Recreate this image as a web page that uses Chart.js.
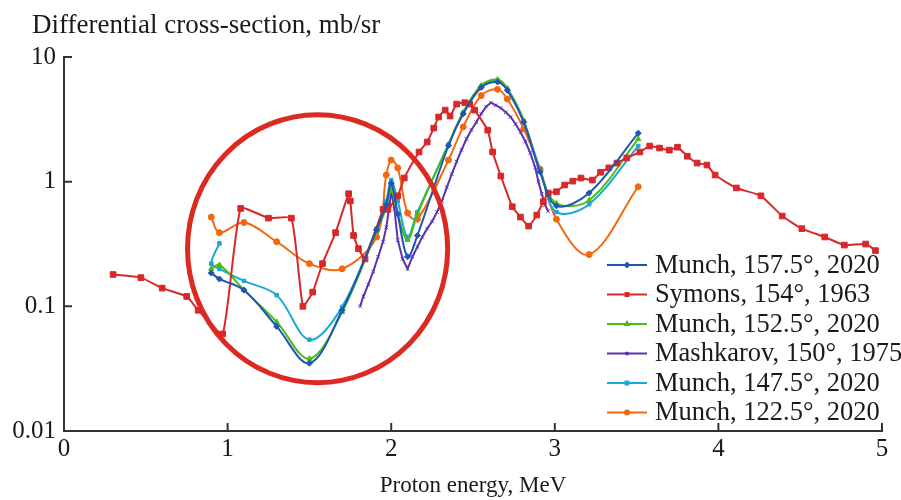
<!DOCTYPE html>
<html>
<head>
<meta charset="utf-8">
<script src="https://cdn.jsdelivr.net/npm/chart.js@4/dist/chart.umd.min.js"></script>
<style>
  html, body { margin: 0; padding: 0; background: #fff; }
  canvas { display: block; }
</style>
</head>
<body>
<canvas id="chart" width="901" height="500"></canvas>
<script>
/* Data */
const energyMunch = [0.90, 0.95, 1.10, 1.30, 1.50, 1.70, 1.91, 1.97, 2.00, 2.04, 2.10, 2.16, 2.35, 2.44, 2.55, 2.65, 2.71, 2.81, 2.91, 3.01, 3.21, 3.51];
const munch1575 = [0.185, 0.166, 0.135, 0.069, 0.035, 0.093, 0.41, 0.66, 0.97, 0.55, 0.25, 0.37, 1.95, 3.5, 5.7, 6.3, 5.4, 3.0, 1.2, 0.64, 0.81, 2.45];
const munch1525 = [0.20, 0.215, 0.135, 0.075, 0.038, 0.09, 0.40, 0.62, 0.85, 0.55, 0.34, 0.55, 2.0, 3.6, 5.9, 6.6, 5.6, 3.1, 1.2, 0.67, 0.71, 2.2];
const munch1225 = [0.52, 0.39, 0.47, 0.33, 0.22, 0.20, 0.36, 1.13, 1.49, 1.29, 0.56, 0.50, 1.49, 2.75, 4.9, 5.5, 4.6, 2.65, 1.26, 0.50, 0.26, 0.91];

const energyMunch1475 = [0.95, 0.90, 0.95, 1.10, 1.30, 1.50, 1.70, 1.91, 1.97, 2.00, 2.04, 2.10, 2.16, 2.35, 2.44, 2.55, 2.65, 2.71, 2.81, 2.91, 3.01, 3.21, 3.51];
const munch1475 = [0.32, 0.22, 0.20, 0.16, 0.123, 0.054, 0.099, 0.42, 0.70, 1.03, 0.70, 0.36, 0.57, 1.97, 3.55, 5.8, 6.5, 5.5, 3.05, 1.25, 0.57, 0.66, 1.93];

const energySymons = [0.30, 0.47, 0.60, 0.75, 0.82, 0.97, 1.08, 1.25, 1.39, 1.46, 1.52, 1.58, 1.66, 1.74, 1.75, 1.77, 1.80, 1.84, 1.95, 1.98, 2.04, 2.08, 2.17, 2.22, 2.26, 2.29, 2.33, 2.36, 2.40, 2.45, 2.48, 2.51, 2.59, 2.62, 2.67, 2.74, 2.79, 2.84, 2.89, 2.93, 2.96, 3.01, 3.06, 3.11, 3.16, 3.23, 3.28, 3.33, 3.38, 3.44, 3.52, 3.58, 3.64, 3.70, 3.75, 3.81, 3.87, 3.93, 3.98, 4.11, 4.26, 4.39, 4.51, 4.65, 4.77, 4.90, 4.96];
const symons = [0.18, 0.17, 0.14, 0.12, 0.093, 0.06, 0.61, 0.51, 0.51, 0.10, 0.13, 0.22, 0.39, 0.80, 0.70, 0.37, 0.29, 0.24, 0.60, 0.60, 0.77, 1.07, 1.73, 2.08, 2.69, 3.30, 3.75, 3.36, 4.19, 4.3, 4.19, 3.75, 2.59, 1.73, 1.11, 0.63, 0.52, 0.44, 0.54, 0.69, 0.81, 0.83, 0.94, 1.01, 1.07, 1.03, 1.19, 1.29, 1.41, 1.55, 1.73, 1.93, 1.86, 1.79, 1.89, 1.60, 1.41, 1.36, 1.13, 0.89, 0.77, 0.53, 0.42, 0.36, 0.31, 0.316, 0.28];

const energyMashkarov = [1.81, 1.83, 1.86, 1.89, 1.92, 1.95, 1.97, 1.99, 2.00, 2.02, 2.04, 2.07, 2.10, 2.13, 2.16, 2.19, 2.22, 2.25, 2.28, 2.31, 2.34, 2.37, 2.40, 2.43, 2.46, 2.49, 2.52, 2.55, 2.58, 2.61, 2.64, 2.67, 2.70, 2.73, 2.76, 2.79, 2.82, 2.85, 2.88, 2.90, 2.92, 2.94, 2.96];
const mashkarov = [0.10, 0.12, 0.15, 0.19, 0.25, 0.33, 0.43, 0.65, 0.85, 0.60, 0.34, 0.24, 0.20, 0.25, 0.30, 0.36, 0.42, 0.48, 0.57, 0.70, 0.90, 1.15, 1.45, 1.80, 2.2, 2.6, 3.0, 3.5, 4.0, 4.3, 4.1, 3.9, 3.6, 3.3, 2.9, 2.5, 2.1, 1.7, 1.3, 1.0, 0.8, 0.65, 0.58];

const xTicks = [0, 1, 2, 3, 4, 5];
const yTicks = [0.01, 0.1, 1, 10];
const yTickLabels = ["0.01", "0.1", "1", "10"];

// red circle drawn over the low-energy region (centre in data units, radii in MeV / decades)
const circleCenter = [1.55, 0.29];
const circleRadiusE = 0.795;
const circleRadiusDecades = 1.075;

const serif = "'Liberation Serif', 'Times New Roman', serif";
const ink = "#1a1a1a";

function pts(xs, ys) {
  return xs.map(function (x, i) { return { x: x, y: ys[i] }; });
}

function series(label, xs, ys, color, style, radius, tension) {
  return {
    label: label,
    data: pts(xs, ys),
    borderColor: color,
    backgroundColor: color,
    borderWidth: 2,
    pointStyle: style,
    pointRadius: radius,
    pointBorderWidth: 1,
    pointHoverRadius: radius,
    tension: tension
  };
}

const datasets = [
  series("Munch, 157.5°, 2020", energyMunch, munch1575, "#1f56b4", "rectRot", 3, 0.35),
  series("Symons, 154°, 1963", energySymons, symons, "#d8282a", "rect", 4, 0.15),
  series("Munch, 152.5°, 2020", energyMunch, munch1525, "#4cba1a", "triangle", 3, 0.35),
  series("Mashkarov, 150°, 1975", energyMashkarov, mashkarov, "#5a31b0", "crossRot", 2.5, 0),
  series("Munch, 147.5°, 2020", energyMunch1475, munch1475, "#1ba8d8", "rect", 2.5, 0.35),
  series("Munch, 122.5°, 2020", energyMunch, munch1225, "#f3680f", "circle", 3, 0.35)
];

const decorPlugin = {
  id: "decor",
  afterDatasetsDraw: function (chart) {
    const ctx = chart.ctx;
    const xs = chart.scales.x, ys = chart.scales.y;
    const cx = xs.getPixelForValue(circleCenter[0]);
    const cy = ys.getPixelForValue(circleCenter[1]);
    const rx = xs.getPixelForValue(circleCenter[0] + circleRadiusE) - cx;
    const ry = cy - ys.getPixelForValue(circleCenter[1] * Math.pow(10, circleRadiusDecades));
    ctx.save();
    ctx.strokeStyle = "#dc2a22";
    ctx.lineWidth = 5;
    ctx.beginPath();
    ctx.ellipse(cx, cy, rx, ry, 0, 0, Math.PI * 2);
    ctx.stroke();
    ctx.restore();
  },
  afterDraw: function (chart) {
    const ctx = chart.ctx;
    const xs = chart.scales.x, ys = chart.scales.y;
    const area = chart.chartArea;
    ctx.save();
    // inward ticks
    ctx.strokeStyle = "#333";
    ctx.lineWidth = 2;
    ctx.beginPath();
    xTicks.forEach(function (v) {
      const px = xs.getPixelForValue(v);
      ctx.moveTo(px, area.bottom);
      ctx.lineTo(px, area.bottom - 8);
    });
    yTicks.forEach(function (v) {
      const py = ys.getPixelForValue(v);
      ctx.moveTo(area.left, py);
      ctx.lineTo(area.left + 8, py);
    });
    ctx.stroke();

    // y axis title
    ctx.fillStyle = ink;
    ctx.font = "27px " + serif;
    ctx.textAlign = "left";
    ctx.textBaseline = "alphabetic";
    ctx.fillText("Differential cross-section, mb/sr", 32, 33);

    // legend
    const lx = 607, ly = 265, step = 29.5;
    chart.data.datasets.forEach(function (ds, i) {
      const y = ly + i * step;
      ctx.strokeStyle = ds.borderColor;
      ctx.lineWidth = 2;
      ctx.beginPath();
      ctx.moveTo(lx, y);
      ctx.lineTo(lx + 40, y);
      ctx.stroke();
      ctx.fillStyle = ds.borderColor;
      Chart.helpers.drawPoint(ctx, { pointStyle: ds.pointStyle, radius: 2, rotation: 0, borderWidth: 1 }, lx + 20, y);
      ctx.fillStyle = ink;
      ctx.font = "26.5px " + serif;
      ctx.textBaseline = "middle";
      ctx.fillText(ds.label, lx + 48, y + 1);
    });
    ctx.restore();
  }
};

new Chart(document.getElementById("chart"), {
  type: "line",
  data: { datasets: datasets },
  options: {
    responsive: false,
    animation: false,
    layout: { padding: { top: 57, right: 19, left: 0, bottom: 0 } },
    plugins: { legend: { display: false }, tooltip: { enabled: false } },
    scales: {
      x: {
        type: "linear",
        min: 0,
        max: 5,
        afterFit: function (s) { s.height = 69; },
        afterBuildTicks: function (s) { s.ticks = xTicks.map(function (v) { return { value: v }; }); },
        grid: { display: false, drawTicks: false },
        border: { display: true, color: "#333", width: 2 },
        ticks: { color: ink, font: { family: serif, size: 25 }, padding: 3, maxRotation: 0 },
        title: { display: true, text: "Proton energy, MeV", color: ink, font: { family: serif, size: 23 }, padding: { top: 0, bottom: 0 } }
      },
      y: {
        type: "logarithmic",
        min: 0.01,
        max: 10,
        afterFit: function (s) { s.width = 64; },
        afterBuildTicks: function (s) { s.ticks = yTicks.map(function (v) { return { value: v }; }); },
        grid: { display: false, drawTicks: false },
        border: { display: true, color: "#333", width: 2 },
        ticks: {
          color: ink,
          font: { family: serif, size: 25 },
          padding: 8,
          callback: function (v) { return yTickLabels[yTicks.indexOf(v)] || ""; }
        }
      }
    }
  },
  plugins: [decorPlugin]
});
</script>
</body>
</html>
